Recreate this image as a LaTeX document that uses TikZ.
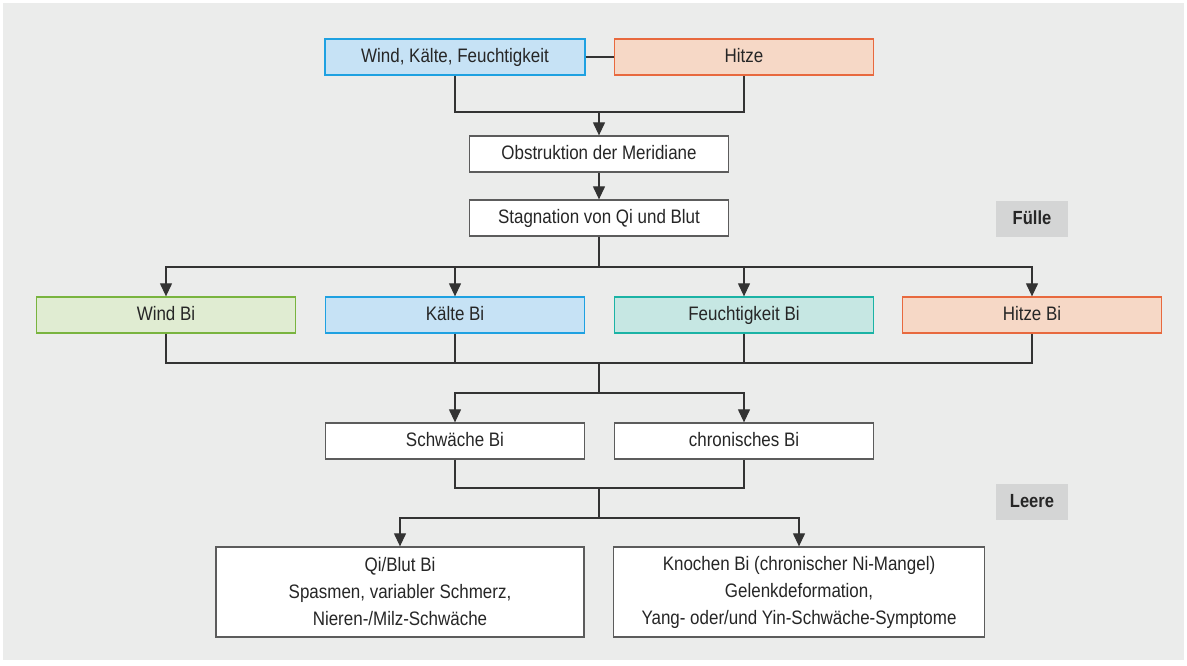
\documentclass[tikz,border=0pt]{standalone}
\usepackage{fontspec}
\setmainfont{Liberation Sans}[FakeStretch=0.87]
\usetikzlibrary{arrows.meta}
\definecolor{bgcol}{HTML}{EBECEB}
\definecolor{tagcol}{HTML}{D4D5D5}
\definecolor{linecol}{HTML}{333333}
\definecolor{txtcol}{HTML}{262626}
\definecolor{bluefill}{HTML}{C6E2F5}
\definecolor{blueline}{HTML}{1EA1E1}
\definecolor{redfill}{HTML}{F6D8C6}
\definecolor{redline}{HTML}{E8693E}
\definecolor{greenfill}{HTML}{E0ECD2}
\definecolor{greenline}{HTML}{79B43F}
\definecolor{tealfill}{HTML}{C6E7E3}
\definecolor{tealline}{HTML}{1BB3A5}
\tikzset{
  box/.style={draw=#1, line width=1.3pt, minimum height=36pt, inner sep=2pt,
    text=txtcol, font=\fontsize{19.5}{27}\selectfont, align=center},
  box/.default={linecol!80},
  one/.style={text height=14pt, text depth=4pt},
  wbox/.style={box, fill=white, minimum width=259pt},
  tag/.style={fill=tagcol, minimum width=72pt, minimum height=36pt, text=txtcol,
    font=\fontsize{19}{20}\selectfont\bfseries, one},
  arr/.style={-{Triangle[width=12pt,length=13pt]}},
}
\begin{document}
\begin{tikzpicture}[x=1pt,y=-1pt,line width=1.2pt,draw=linecol]
  \useasboundingbox (0,0) rectangle (1187,665);
  \fill[bgcol] (3,3) rectangle (1184,660);
  \node[box=blueline, fill=bluefill, minimum width=260pt, one] (wkf) at (455,57) {Wind, Kälte, Feuchtigkeit};
  \node[box=redline, fill=redfill, minimum width=259pt, one] (hitze) at (744,57) {Hitze};
  \node[wbox, one] (obst) at (599,154) {Obstruktion der Meridiane};
  \node[wbox, one] (stag) at (599,218) {Stagnation von Qi und Blut};
  \node[tag] (fuelle) at (1032,219) {Fülle};
  \node[box=greenline, fill=greenfill, minimum width=259pt, one] (windbi) at (166,315) {Wind Bi};
  \node[box=blueline, fill=bluefill, minimum width=259pt, one] (kaeltebi) at (455,315) {Kälte Bi};
  \node[box=tealline, fill=tealfill, minimum width=259pt, one] (feuchtbi) at (744,315) {Feuchtigkeit Bi};
  \node[box=redline, fill=redfill, minimum width=259pt, one] (hitzebi) at (1032,315) {Hitze Bi};
  \node[wbox, one] (schw) at (455,441) {Schwäche Bi};
  \node[wbox, one] (chron) at (744,441) {chronisches Bi};
  \node[tag] (leere) at (1032,502) {Leere};
  \node[wbox, minimum width=368pt, minimum height=90pt] (qiblut) at (400,592)
    {Qi/Blut Bi\\Spasmen, variabler Schmerz,\\Nieren-/Milz-Schwäche};
  \node[wbox, minimum width=371pt, minimum height=90pt] (knochen) at (799,592)
    {Knochen Bi (chronischer Ni-Mangel)\\Gelenkdeformation,\\Yang- oder/und Yin-Schwäche-Symptome};
  \coordinate (j1) at (599,112);
  \coordinate (j2) at (599,267);
  \coordinate (j3) at (599,363);
  \coordinate (j4) at (599,393);
  \coordinate (j5) at (599,488);
  \coordinate (j6) at (599,518);
  \draw (wkf) -- (hitze);
  \draw (wkf.south) |- (j1) -| (hitze.south);
  \draw[arr] (j1) -- (obst.north);
  \draw[arr] (obst) -- (stag);
  \draw (stag.south) -- (j2);
  \foreach \n in {windbi,kaeltebi,feuchtbi,hitzebi}
    \draw[arr] (j2) -| (\n.north);
  \draw (windbi.south) |- (j3) -| (hitzebi.south);
  \foreach \n in {kaeltebi,feuchtbi}
    \draw (\n.south) -- (\n.south |- j3);
  \draw (j3) -- (j4);
  \draw[arr] (j4) -| (schw.north);
  \draw[arr] (j4) -| (chron.north);
  \draw (schw.south) |- (j5) -| (chron.south);
  \draw (j5) -- (j6);
  \draw[arr] (j6) -| (qiblut.north);
  \draw[arr] (j6) -| (knochen.north);
\end{tikzpicture}
\end{document}
